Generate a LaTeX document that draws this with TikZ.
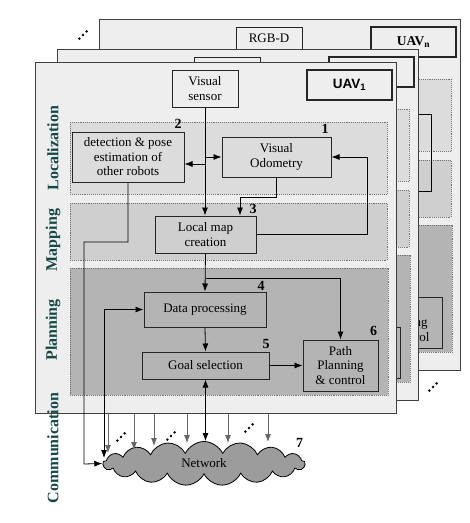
\documentclass[tikz,border=0pt]{standalone}
\usepackage{fontspec}
\setmainfont{Liberation Serif}
\newfontfamily\uavfont{Liberation Sans}
\usetikzlibrary{arrows.meta,shapes.symbols}

\definecolor{panelgray}{HTML}{EEEEEE}
\definecolor{locgray}{HTML}{DCDCDC}
\definecolor{mapgray}{HTML}{CFCFCF}
\definecolor{plangray}{HTML}{B4B4B4}
\definecolor{netgray}{HTML}{9C9C9C}
\definecolor{lanecol}{HTML}{174848}

\tikzset{
  panel/.style={draw=black!75, line width=1pt, fill=panelgray, inner sep=0pt},
  band/.style={draw=black!55, densely dotted, line width=0.9pt},
  box/.style={draw=black!85, line width=1pt, align=center, inner sep=0pt,
    font=\fontsize{13}{14.5}\selectfont},
  uavbox/.style={box, line width=1.4pt, fill=panelgray, minimum width=85pt,
    minimum height=30pt, font=\fontsize{13.5}{14}\selectfont},
  steplabel/.style={font=\fontsize{14}{14}\selectfont\bfseries, inner sep=0pt},
  lane/.style={rotate=90, text=lanecol, inner sep=0pt,
    font=\fontsize{16}{16}\selectfont\bfseries},
  dotrow/.pic={\foreach \k in {-1,0,1} \fill (3.6*\k,-3.6*\k) circle (1.4pt);},
  link/.style={line width=0.8pt, ->},
  bcast/.style={line width=0.8pt, ->, draw=black!60},
  >={Latex[length=8pt,width=6pt]}
}

\begin{document}
\begin{tikzpicture}[x=1pt, y=-1pt]
  \useasboundingbox (0,0) rectangle (470,523);

  % sheets of the other UAVs (only their edges show)
  \foreach \dx/\dy/\sens/\uav/\plan in {
      64/-43/{RGB-D\\\mbox{}}/{\textbf{UAV}\textsubscript{\textbf{n}}}/{Path\\Planning\\\& control},
      22/-13/{}/{\uavfont\bfseries UAV\textsubscript{2}}/{}} {
  \begin{scope}[shift={(\dx,\dy)}]
    \node[panel, minimum width=361pt, minimum height=351pt] (sheet) at (215.5,237.5) {};
    \draw[band, fill=locgray] (70,122) rectangle (387,194);
    \draw[band, fill=mapgray] (70,203) rectangle (387,260);
    \draw[band, fill=plangray] (70,268) rectangle (388,395);
    \node[box, fill=panelgray, minimum width=66pt, minimum height=37pt] (sens) at (205,88.5) {\sens};
    \node[uavbox] (uav) at (349.5,85) {\uav};
    \node[box, fill=locgray, minimum width=109pt, minimum height=40pt] (vo) at (276.5,157) {};
    \node[box, fill=mapgray, minimum width=101pt, minimum height=37pt] (map) at (205.5,234.5) {};
    \node[box, fill=plangray, minimum width=75pt, minimum height=51pt] (pp) at (340.5,365.5) {\plan};
    \draw[link] (map.east) -- ++(111,0) |- (vo.east);
  \end{scope}
  }

  % front sheet
  \node[panel, minimum width=361pt, minimum height=351pt] (frame) at (215.5,237.5) {};
  \draw[band, fill=locgray] (70,122) rectangle (387,194);
  \draw[band, fill=mapgray] (70,203) rectangle (387,260);
  \draw[band, fill=plangray] (70,268) rectangle (388,395);

  \node[box, fill=panelgray, minimum width=66pt, minimum height=37pt] (sens) at (205,88.5) {Visual\\sensor};
  \node[uavbox] (uav) at (349.5,85) {\uavfont\bfseries UAV\textsubscript{1}};

  \node[box, fill=locgray, minimum width=112pt, minimum height=50pt] (det) at (128,157)
    {detection \& pose\\estimation of\\other robots};
  \node[box, fill=locgray, minimum width=109pt, minimum height=40pt] (vo) at (276.5,157)
    {Visual\\Odometry};
  \node[box, fill=mapgray, minimum width=101pt, minimum height=37pt] (map) at (205.5,234.5)
    {Local map\\creation};
  \node[box, fill=plangray, minimum width=122pt, minimum height=35pt] (dp) at (205,309.5)
    {Data processing};
  \node[box, fill=plangray, minimum width=127pt, minimum height=27pt] (goal) at (205.5,365.5)
    {Goal selection};
  \node[box, fill=plangray, minimum width=75pt, minimum height=51pt] (pp) at (340.5,365.5)
    {Path\\Planning\\\& control};

  \node[steplabel] (n1) at (325,129) {1};
  \node[steplabel] (n2) at (178,124) {2};
  \node[steplabel] (n3) at (253,209) {3};
  \node[steplabel] (n4) at (261,286) {4};
  \node[steplabel] (n5) at (266,344) {5};
  \node[steplabel] (n6) at (373.5,331) {6};

  \draw[link] (sens.south) -- (sens.south |- map.north);
  \draw[link] (sens.south |- vo.west) -- (vo.west);
  \draw[link] (sens.south |- 0,164) -- (det.east |- 0,164);
  \draw[link] (vo.south) -- ++(0,20) -| ([xshift=34.5pt]map.north);
  \draw[link] (map.east) -- ++(111,0) |- (vo.east);
  \draw[link] (map.south) -- (dp.north);
  \draw[link] (map.south |- 0,278) -| (pp.north);
  \draw[link] (dp.south) -- (goal.north);
  \draw[link] (goal.east) -- (pp.west);

  % lanes
  \node[lane] (lloc) at (53,148) {Localization};
  \node[lane] (lmap) at (53,240) {Mapping};
  \node[lane] (lplan) at (53,330) {Planning};
  \node[lane] (lcom) at (53,448) {Communication};

  % network
  \node[cloud, cloud puffs=17, cloud puff arc=130, aspect=4.6, draw, line width=0.8pt,
    fill=netgray, minimum width=202pt, minimum height=44pt, inner sep=0pt,
    font=\fontsize{13}{14}\selectfont] (net) at (204,463.5) {Network};
  \node[steplabel] (n7) at (299.5,443) {7};

  \coordinate (dpnet) at (104,458);
  \draw[link] (det.south) -- (det.south |- 0,242) -| (84,464) -- (net.west);
  \draw[link, <->] (dpnet) |- (dp.west);
  \draw[link, <->] (goal.south) -- (goal.south |- net.north);
  \foreach \x/\y in {108/453, 134/450, 154/446, 187/443, 228/443, 268/442}
    \draw[bcast] (frame.south -| \x,0) -- (\x,\y);

  % other UAVs
  \pic (d1) at (83,35) {dotrow};
  \pic (d2) at (433,387) {dotrow};
  \pic (d3) at (121,437) {dotrow};
  \pic (d4) at (171,436) {dotrow};
  \pic (d5) at (249,428) {dotrow};
\end{tikzpicture}
\end{document}
